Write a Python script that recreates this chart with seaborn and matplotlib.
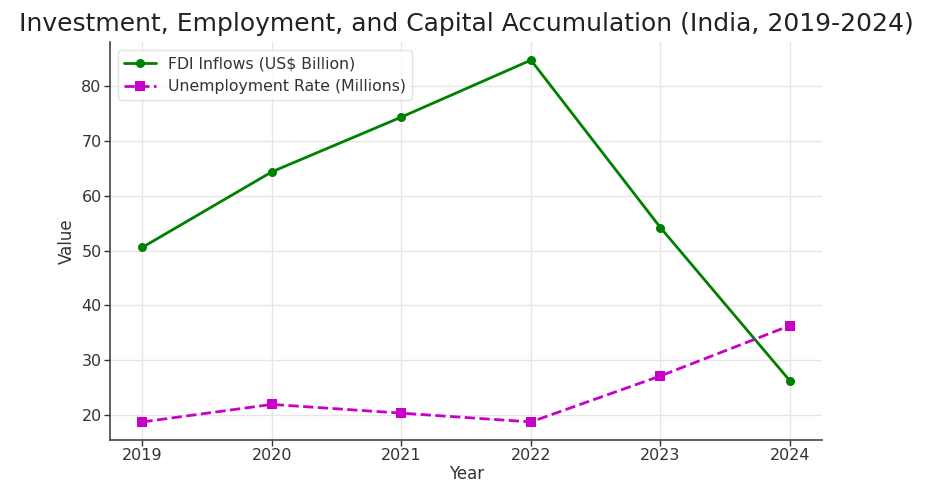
import matplotlib
matplotlib.use("Agg")
import matplotlib.pyplot as plt
import seaborn as sns
import pandas as pd

years = [2019, 2020, 2021, 2022, 2023, 2024]
fdi_inflows = [50.6, 64.4, 74.4, 84.8, 54.2, 26.2]
unemployment = [18.7, 21.9, 20.3, 18.7, 27.1, 36.3]
x_tick_labels = ["2019", "2020", "2021", "2022", "2023", "2024"]

df = pd.DataFrame({"Year": years, "FDI": fdi_inflows, "Unemp": unemployment})

sns.set_theme(style="whitegrid")
plt.rcParams["font.family"] = ["DejaVu Sans"]

fig, ax = plt.subplots(figsize=(9.25, 4.83), dpi=100)
fig.subplots_adjust(left=0.119, right=0.889, top=0.913, bottom=0.089)

sns.lineplot(data=df, x="Year", y="FDI", ax=ax, color="#008000", marker="o",
             markersize=6.5, markeredgewidth=0, linewidth=2,
             label="FDI Inflows (US$ Billion)")
sns.lineplot(data=df, x="Year", y="Unemp", ax=ax, color="#c800c8", marker="s",
             markersize=6.5, markeredgewidth=0, linewidth=2, linestyle="--",
             label="Unemployment Rate (Millions)")

ax.set_xticks(years)
ax.set_xticklabels(x_tick_labels)
ax.set_yticks([20, 30, 40, 50, 60, 70, 80])
ax.tick_params(axis="both", labelsize=11.5, colors="#333333", length=4,
               width=1, direction="out", bottom=True, left=True, pad=2)
ax.set_xlabel("Year", fontsize=12, color="#333333", labelpad=1)
ax.set_ylabel("Value", fontsize=12, color="#333333")
ax.set_title("Investment, Employment, and Capital Accumulation (India, 2019-2024)",
             fontsize=18, color="#222222", pad=8)

ax.grid(True, color="#e6e6e6", linewidth=1)
sns.despine(ax=ax)
for side in ("left", "bottom"):
    ax.spines[side].set_color("#444444")
    ax.spines[side].set_linewidth(1.2)

leg = ax.legend(loc="upper left", fontsize=11.3, frameon=True)
leg.get_frame().set_edgecolor("#dddddd")
for t in leg.get_texts():
    t.set_color("#333333")

fig.savefig("out.png", dpi=100)
